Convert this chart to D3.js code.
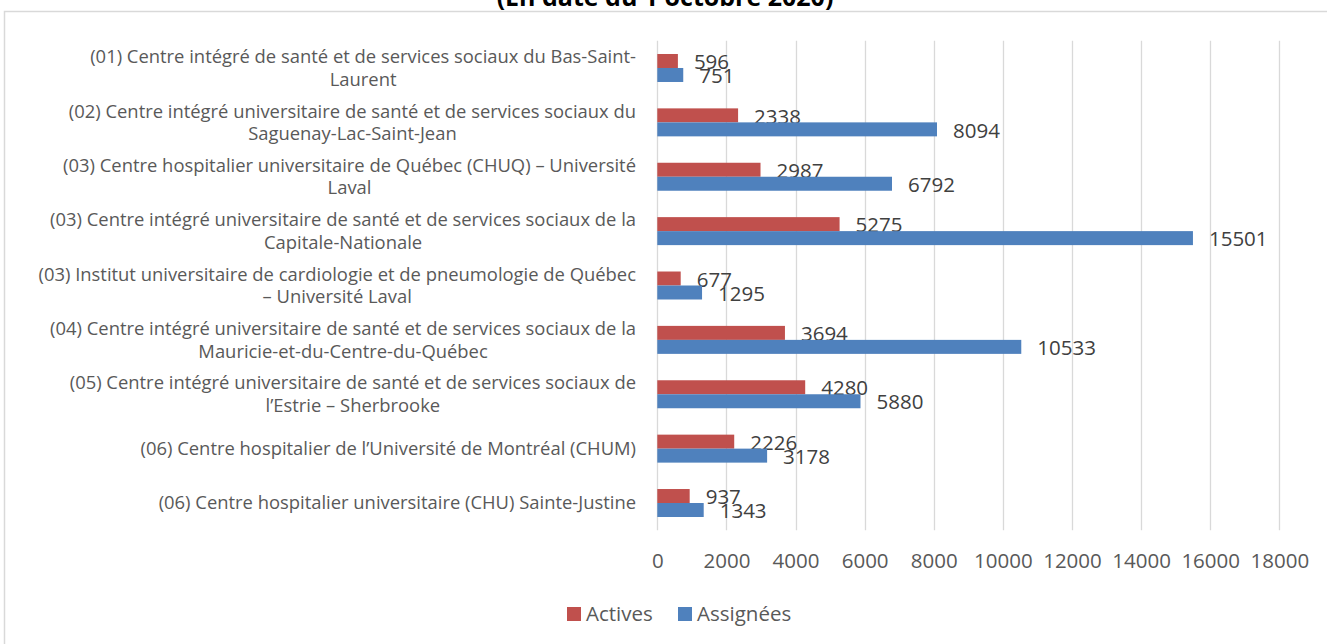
<!DOCTYPE html>
<html>
<head>
<meta charset="utf-8">
<script src="https://cdn.jsdelivr.net/npm/d3@7"></script>
<style>
  body { margin: 0; background: #fff; }
  svg { display: block; font-family: "Open Sans", sans-serif; }
</style>
</head>
<body>
<div id="chart"></div>
<script>
"use strict";

// == DATA ==
var categories = [
  ["(01) Centre intégré de santé et de services sociaux du Bas-Saint-", "Laurent"],
  ["(02) Centre intégré universitaire de santé et de services sociaux du", "Saguenay-Lac-Saint-Jean"],
  ["(03) Centre hospitalier universitaire de Québec (CHUQ) – Université", "Laval"],
  ["(03) Centre intégré universitaire de santé et de services sociaux de la", "Capitale-Nationale"],
  ["(03) Institut universitaire de cardiologie et de pneumologie de Québec", "– Université Laval"],
  ["(04) Centre intégré universitaire de santé et de services sociaux de la", "Mauricie-et-du-Centre-du-Québec"],
  ["(05) Centre intégré universitaire de santé et de services sociaux de", "l’Estrie – Sherbrooke"],
  ["(06) Centre hospitalier de l’Université de Montréal (CHUM)"],
  ["(06) Centre hospitalier universitaire (CHU) Sainte-Justine"]
];
var actives   = [596, 2338, 2987, 5275, 677, 3694, 4280, 2226, 937];
var assignees = [751, 8094, 6792, 15501, 1295, 10533, 5880, 3178, 1343];
var seriesNames = ["Actives", "Assignées"];
var seriesColors = ["#C0504D", "#4F81BD"];
var xTicks = [0, 2000, 4000, 6000, 8000, 10000, 12000, 14000, 16000, 18000];
var title = "(En date du 1 octobre 2020)";

// == BOILERPLATE ==
var W = 1327, H = 644;
var plot = { left: 657.3, right: 1279.3, top: 40.8, bottom: 530.2 };

var svg = d3.select("#chart")
  .append("svg")
  .attr("width", W)
  .attr("height", H);

// chart frame
svg.append("rect")
  .attr("x", 4.5).attr("y", 11.5)
  .attr("width", 1330).attr("height", 700)
  .attr("fill", "#fff")
  .attr("stroke", "#D9D9D9")
  .attr("stroke-width", 1.5);

svg.append("text")
  .attr("x", 665).attr("y", 6)
  .attr("text-anchor", "middle")
  .attr("font-weight", "bold")
  .attr("font-size", 25)
  .attr("fill", "#000")
  .text(title);

// == SCALES ==
var idx = d3.range(categories.length);

var x = d3.scaleLinear()
  .domain([0, 18000])
  .range([plot.left, plot.right]);

var y = d3.scaleBand()
  .domain(idx)
  .range([plot.top, plot.bottom])
  .padding(0);

var ySub = d3.scaleBand()
  .domain([0, 1])
  .range([0, y.bandwidth()])
  .paddingInner(0)
  .paddingOuter(0.943);

// gridlines
svg.append("g")
  .selectAll("line")
  .data(xTicks)
  .enter()
  .append("line")
  .attr("x1", function (d) { return Math.round(x(d)) + 0.5; })
  .attr("x2", function (d) { return Math.round(x(d)) + 0.5; })
  .attr("y1", plot.top)
  .attr("y2", plot.bottom)
  .attr("stroke", "#D9D9D9")
  .attr("stroke-width", 1.3);

// x axis labels
var xAxis = d3.axisBottom(x)
  .tickValues(xTicks)
  .tickSize(0)
  .tickPadding(0)
  .tickFormat(d3.format("d"));

var gx = svg.append("g")
  .attr("transform", "translate(0," + plot.bottom + ")")
  .call(xAxis);
gx.select(".domain").remove();
gx.selectAll("text")
  .attr("y", 38)
  .attr("dy", 0)
  .attr("font-family", "'Open Sans', sans-serif")
  .attr("font-size", 20.5)
  .attr("fill", "#595959");

// category labels (Excel style: block right aligned, lines centred)
var labelRight = 636;
var lineH = 22.5;
var catG = svg.append("g")
  .attr("font-size", 18.4)
  .attr("fill", "#595959");

idx.forEach(function (i) {
  var lines = categories[i];
  var cy = y(i) + y.bandwidth() / 2;
  var t = catG.append("text").attr("text-anchor", "middle");
  var spans = lines.map(function (s, k) {
    return t.append("tspan")
      .attr("y", cy + (k - (lines.length - 1) / 2) * lineH)
      .attr("dy", "0.35em")
      .text(s);
  });
  var maxW = d3.max(spans, function (s) { return s.node().getComputedTextLength(); });
  spans.forEach(function (s) { s.attr("x", labelRight - maxW / 2); });
});

// == BARS ==
var seriesData = [actives, assignees];

seriesData.forEach(function (vals, s) {
  var g = svg.append("g");
  g.selectAll("rect")
    .data(vals)
    .enter()
    .append("rect")
    .attr("x", x(0))
    .attr("y", function (d, i) { return y(i) + ySub(s); })
    .attr("width", function (d) { return x(d) - x(0); })
    .attr("height", ySub.bandwidth())
    .attr("fill", seriesColors[s]);

  g.selectAll("text")
    .data(vals)
    .enter()
    .append("text")
    .attr("x", function (d) { return x(d) + 16; })
    .attr("y", function (d, i) { return y(i) + ySub(s) + ySub.bandwidth() / 2 + 1; })
    .attr("dy", "0.35em")
    .attr("font-size", 20.5)
    .attr("fill", "#404040")
    .text(function (d) { return d; });
});

// == LEGEND ==
var legendX = [567, 678];
var legend = svg.append("g");
seriesNames.forEach(function (name, s) {
  legend.append("rect")
    .attr("x", legendX[s]).attr("y", 607)
    .attr("width", 14).attr("height", 14)
    .attr("fill", seriesColors[s]);
  legend.append("text")
    .attr("x", legendX[s] + 19).attr("y", 621)
    .attr("font-size", 20.5)
    .attr("fill", "#595959")
    .text(name);
});
</script>
</body>
</html>
